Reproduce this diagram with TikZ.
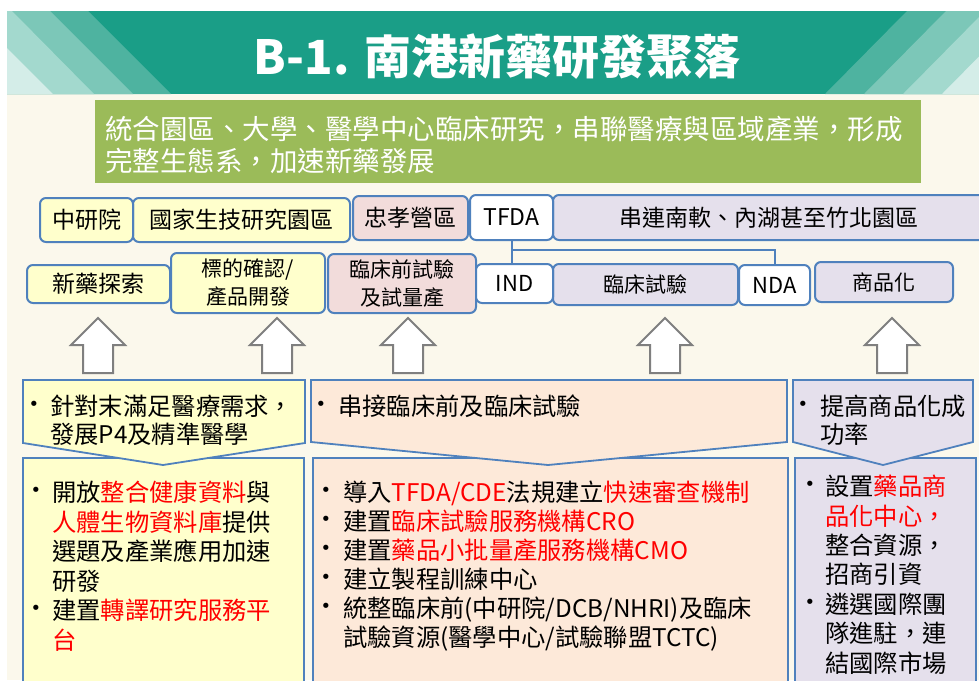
\documentclass[tikz,border=0pt]{standalone}
\usepackage{fontspec}
\setmainfont{Noto Sans CJK TC}
\newfontfamily\bulfont{DejaVu Sans}
\definecolor{teal1}{HTML}{1A9E87}
\definecolor{st1}{HTML}{4EB3A0}
\definecolor{st2}{HTML}{7CC7B8}
\definecolor{st3}{HTML}{A3D9CE}
\definecolor{st4}{HTML}{D4EDE8}
\definecolor{cream}{HTML}{FBF8EC}
\definecolor{green1}{HTML}{9BBB59}
\definecolor{bord}{HTML}{4F81BD}
\definecolor{yel}{HTML}{FFFFCC}
\definecolor{pink1}{HTML}{F2DCDB}
\definecolor{peach}{HTML}{FDE9D9}
\definecolor{lav}{HTML}{E5E0EC}
\definecolor{red1}{HTML}{FF0000}
\definecolor{arrgray}{HTML}{7F7F7F}
\newcommand\rd[1]{\textcolor{red1}{#1}}
\tikzset{
  rbox/.style={draw=bord, line width=2pt, rounded corners=6pt, inner sep=0pt, align=center},
  pbox/.style={draw=bord, line width=1.8pt},
  conn/.style={draw=bord, line width=2pt},
  uparrow/.style={draw=arrgray, line width=2pt, fill=white, line join=miter},
  gtxt/.style={font=\fontsize{27.5}{27.5}\selectfont, text=white, inner sep=0pt, anchor=west, text height=23.6pt, text depth=3.9pt},
  txt/.style={font=\fontsize{24.3}{24.3}\selectfont, inner sep=0pt, anchor=west, text height=20.9pt, text depth=3.4pt},
  bul/.style={font=\bulfont\fontsize{18}{18}\selectfont, inner sep=0pt, anchor=center}
}
\begin{document}
\begin{tikzpicture}[x=1pt,y=-1pt]
\useasboundingbox (0,0) rectangle (979,680);
\clip (0,0) rectangle (979,680);
\fill[white] (0,0) rectangle (979,680);
\fill[cream] (7,94) rectangle (979,680);
% title band
\begin{scope}
  \clip (7,11) rectangle (979,94);
  \fill[teal1] (7,11) rectangle (979,94);
  \fill[st1] (0,11) -- (88,11) -- (171,94) -- (0,94) -- cycle;
  \fill[st2] (0,11) -- (50,11) -- (133,94) -- (0,94) -- cycle;
  \fill[st3] (0,11) -- (12,11) -- (94,94) -- (0,94) -- cycle;
  \fill[st4] (7,48) -- (53,94) -- (0,94) -- (0,48) -- cycle;
  \fill[st1] (907,11) -- (1100,11) -- (1100,94) -- (825,94) -- cycle;
  \fill[st2] (946,11) -- (1100,11) -- (1100,94) -- (864,94) -- cycle;
  \fill[st3] (985,11) -- (1100,11) -- (1100,94) -- (903,94) -- cycle;
  \fill[st4] (1024,11) -- (1100,11) -- (1100,94) -- (942,94) -- cycle;
\end{scope}
\node[font=\fontsize{47}{47}\selectfont\bfseries, text=white, inner sep=0pt] (title) at (497,57) {B-1. 南港新藥研發聚落};
% goal box
\node[fill=green1, minimum width=826pt, minimum height=83pt, inner sep=0pt] (goal) at (508,141.5) {};
\node[gtxt] (g1) at (105,130) {統合園區、大學、醫學中心臨床研究，串聯醫療與區域產業，形成};
\node[gtxt] (g2) at (105,162) {完整生態系，加速新藥發展};
% row 1
\node[rbox, fill=yel, minimum width=217pt, minimum height=44pt, font=\fontsize{23}{23}\selectfont] (n2) at (241.5,220) {國家生技研究園區};
\node[rbox, fill=yel, minimum width=93pt, minimum height=44pt, font=\fontsize{23}{23}\selectfont] (n1) at (86.5,220) {中研院};
\node[rbox, fill=pink1, minimum width=115pt, minimum height=44pt, font=\fontsize{23}{23}\selectfont] (n3) at (410.5,218) {忠孝營區};
\node[rbox, fill=lav, minimum width=432pt, minimum height=45pt, font=\fontsize{23}{23}\selectfont] (n5) at (769,217.5) {串連南軟、內湖甚至竹北園區};
\node[rbox, fill=white, minimum width=83pt, minimum height=45pt, font=\fontsize{23}{23}\selectfont] (n4) at (511.5,217.5) {TFDA};
% row 2
\node[rbox, fill=yel, minimum width=143pt, minimum height=38pt, font=\fontsize{23}{23}\selectfont] (m1) at (98.5,284) {新藥探索};
\node[rbox, fill=yel, minimum width=154pt, minimum height=60pt, font=\fontsize{21}{28}\selectfont] (m2) at (248,283) {標的確認/\\產品開發};
\node[rbox, fill=pink1, minimum width=148pt, minimum height=59pt, font=\fontsize{21}{28}\selectfont] (m3) at (402,283.5) {臨床前試驗\\及試量產};
\node[rbox, fill=lav, minimum width=185pt, minimum height=41pt, font=\fontsize{21}{21}\selectfont] (m5) at (645.5,284.5) {臨床試驗};
\node[rbox, fill=white, minimum width=77pt, minimum height=39pt, font=\fontsize{22}{22}\selectfont] (m4) at (514.5,283.5) {IND};
\node[rbox, fill=white, minimum width=71pt, minimum height=40pt, font=\fontsize{22}{22}\selectfont] (m6) at (774.5,285) {NDA};
\node[rbox, fill=lav, minimum width=138pt, minimum height=40pt, font=\fontsize{21}{21}\selectfont] (m7) at (884,282) {商品化};
% connectors
\coordinate (j) at (513,250);
\draw[conn] (n4.south) -- (n4.south |- m4.north);
\draw[conn] (n4.south |- j) -| (m6.north);
% up arrows
\foreach \cx in {98,277,408,665,892} {
  \draw[uparrow] (\cx-15,373) -- (\cx-15,345) -- (\cx-27,345) -- (\cx,318) -- (\cx+27,345) -- (\cx+15,345) -- (\cx+15,373) -- cycle;
}
% bottom boxes
\node[pbox, fill=yel, minimum width=281pt, minimum height=243pt, anchor=north west, inner sep=0pt] (bA) at (22,457) {};
\node[pbox, fill=peach, minimum width=475pt, minimum height=243pt, anchor=north west, inner sep=0pt] (bB) at (312,457) {};
\node[pbox, fill=lav, minimum width=181pt, minimum height=243pt, anchor=north west, inner sep=0pt] (bC) at (794,457) {};
% middle pentagons
\draw[pbox, fill=yel] (23,380) -- (305,380) -- (305,443) -- (163,465) -- (23,443) -- cycle;
\draw[pbox, fill=peach] (311,380) -- (787,380) -- (787,442) -- (548,465) -- (311,442) -- cycle;
\draw[pbox, fill=lav] (793,380) -- (973,380) -- (973,442) -- (883,465) -- (793,442) -- cycle;
% middle texts
\node[bul] (ma0) at (34,406) {•};
\node[txt] (ma1) at (50,407) {針對末滿足醫療需求，};
\node[txt] (ma2) at (50,435) {發展P4及精準醫學};
\node[bul] (mb0) at (321,406) {•};
\node[txt] (mb1) at (338,407) {串接臨床前及臨床試驗};
\node[bul] (mc0) at (803,406) {•};
\node[txt] (mc1) at (820,407) {提高商品化成};
\node[txt] (mc2) at (820,435) {功率};
% bottom texts A
\node[bul] (ba0) at (36,492) {•};
\node[txt] (ba1) at (52,493) {開放\rd{整合健康資料}與};
\node[txt] (ba2) at (52,522.5) {\rd{人體生物資料庫}提供};
\node[txt] (ba3) at (52,552) {選題及產業應用加速};
\node[txt] (ba4) at (52,581.5) {研發};
\node[bul] (ba5) at (36,610) {•};
\node[txt] (ba6) at (52,611) {建置\rd{轉譯研究服務平}};
\node[txt] (ba7) at (52,640.5) {\rd{台}};
% bottom texts B
\node[bul] (bb0) at (326,492) {•};
\node[txt] (bb1) at (343,493) {導入\rd{TFDA/CDE}法規建立\rd{快速審查機制}};
\node[bul] (bb2) at (326,521) {•};
\node[txt] (bb3) at (343,522) {建置\rd{臨床試驗服務機構CRO}};
\node[bul] (bb4) at (326,550) {•};
\node[txt] (bb5) at (343,551) {建置\rd{藥品小批量產服務機構CMO}};
\node[bul] (bb6) at (326,579) {•};
\node[txt] (bb7) at (343,580) {建立製程訓練中心};
\node[bul] (bb8) at (326,608) {•};
\node[txt] (bb9) at (343,609) {統整臨床前(中研院/DCB/NHRI)及臨床};
\node[txt] (bb10) at (343,638) {試驗資源(醫學中心/試驗聯盟TCTC)};
% bottom texts C
\node[bul] (bc0) at (810,486) {•};
\node[txt] (bc1) at (825,487) {設置\rd{藥品商}};
\node[txt] (bc2) at (825,517) {\rd{品化中心，}};
\node[txt] (bc3) at (825,546) {整合資源，};
\node[txt] (bc4) at (825,575) {招商引資};
\node[bul] (bc5) at (810,604) {•};
\node[txt] (bc6) at (825,605) {遴選國際團};
\node[txt] (bc7) at (825,634) {隊進駐，連};
\node[txt] (bc8) at (825,664) {結國際市場};
\end{tikzpicture}
\end{document}
